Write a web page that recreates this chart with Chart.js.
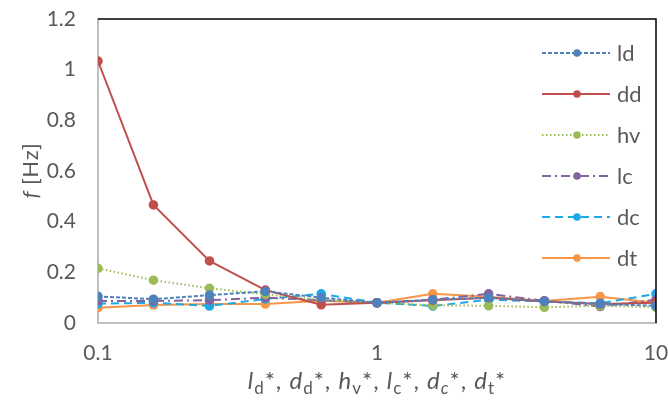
<!DOCTYPE html>
<html>
<head>
<meta charset="utf-8">
<script src="https://cdn.jsdelivr.net/npm/chart.js@4/dist/chart.umd.min.js"></script>
<style>
html,body{margin:0;padding:0;background:#fff;}
#c{display:block;}
</style>
</head>
<body>
<canvas id="c" width="668" height="400"></canvas>
<script>
// ---- data ----
const xValues = [0.1, 0.158, 0.251, 0.398, 0.631, 1, 1.585, 2.512, 3.981, 6.31, 10];
const seriesNames = ['ld', 'dd', 'hv', 'lc', 'dc', 'dt'];
const ld = [0.105, 0.094, 0.110, 0.125, 0.100, 0.080, 0.092, 0.100, 0.085, 0.075, 0.068];
const dd = [1.034, 0.466, 0.245, 0.130, 0.072, 0.080, 0.090, 0.100, 0.085, 0.075, 0.080];
const hv = [0.216, 0.169, 0.137, 0.113, 0.090, 0.080, 0.070, 0.068, 0.062, 0.068, 0.062];
const lc = [0.087, 0.087, 0.090, 0.100, 0.090, 0.080, 0.092, 0.115, 0.088, 0.065, 0.092];
const dc = [0.076, 0.080, 0.067, 0.095, 0.115, 0.080, 0.067, 0.092, 0.085, 0.078, 0.115];
const dt = [0.060, 0.071, 0.075, 0.075, 0.088, 0.080, 0.115, 0.104, 0.087, 0.104, 0.080];
const xTickLabels = [0.1, 1, 10];
const yTicks = [0, 0.2, 0.4, 0.6, 0.8, 1, 1.2];

const seriesValues = [ld, dd, hv, lc, dc, dt];
const colors = ['#4F81BD', '#C0504D', '#9BBB59', '#8064A2', '#1DA9E3', '#F79646'];
const dashes = [[4, 2], [], [1.5, 2.5], [9, 4, 2, 4], [8, 5], []];

const FONT = 'Lato, "Open Sans", sans-serif';
const TEXT = '#595959';

const datasets = seriesNames.map((name, i) => ({
  label: name,
  data: xValues.map((x, k) => ({x: x, y: seriesValues[i][k]})),
  borderColor: colors[i],
  backgroundColor: colors[i],
  pointBackgroundColor: colors[i],
  pointBorderColor: colors[i],
  borderWidth: 2,
  borderDash: dashes[i],
  pointRadius: 3.8,
  pointHoverRadius: 3.8,
  tension: 0,
  fill: false
}));

const overlay = {
  id: 'overlay',
  afterDraw(chart) {
    const ctx = chart.ctx;
    const a = chart.chartArea;
    ctx.save();
    // top & right frame
    ctx.strokeStyle = '#000';
    ctx.lineWidth = 1.5;
    ctx.beginPath();
    ctx.moveTo(a.left, a.top);
    ctx.lineTo(a.right, a.top);
    ctx.lineTo(a.right, a.bottom);
    ctx.stroke();

    // legend
    chart.data.datasets.forEach((ds, i) => {
      const y = 53 + i * 41;
      ctx.strokeStyle = ds.borderColor;
      ctx.lineWidth = 2;
      ctx.setLineDash(ds.borderDash);
      ctx.beginPath();
      ctx.moveTo(542, y);
      ctx.lineTo(610, y);
      ctx.stroke();
      ctx.setLineDash([]);
      ctx.fillStyle = ds.borderColor;
      ctx.beginPath();
      ctx.arc(577, y, 3.8, 0, Math.PI * 2);
      ctx.fill();
      ctx.fillStyle = TEXT;
      ctx.font = '22px ' + FONT;
      ctx.textAlign = 'left';
      ctx.textBaseline = 'middle';
      ctx.fillText(ds.label, 617, y + 1);
    });

    // y axis title: f [Hz]
    ctx.save();
    ctx.translate(31, 171);
    ctx.rotate(-Math.PI / 2);
    ctx.fillStyle = TEXT;
    ctx.textBaseline = 'middle';
    drawRuns(ctx, [{t: 'f', it: true}, {t: ' [Hz]', it: false}], 0, 0, 22, 0.5);
    ctx.restore();

    // x axis title
    const runs = [
      {t: 'l', it: true}, {t: 'd', sub: true}, {t: '*, '},
      {t: 'd', it: true}, {t: 'd', sub: true}, {t: '*, '},
      {t: 'h', it: true}, {t: 'v', sub: true}, {t: '*, '},
      {t: 'l', it: true}, {t: 'c', sub: true}, {t: '*, '},
      {t: 'd', it: true}, {t: 'c', sub: true, it: true}, {t: '*, '},
      {t: 'd', it: true}, {t: 't', sub: true}, {t: '*'}
    ];
    ctx.fillStyle = TEXT;
    ctx.textBaseline = 'alphabetic';
    drawRuns(ctx, runs, (a.left + a.right) / 2, 389, 24, 1);
    ctx.restore();
  }
};

function runFont(r, size) {
  const s = r.sub ? Math.round(size * 0.7) : size;
  return (r.it ? 'italic ' : '') + s + 'px ' + FONT;
}
function drawRuns(ctx, runs, cx, y, size, spacing) {
  let total = 0;
  const widths = runs.map(r => {
    ctx.font = runFont(r, size);
    return ctx.measureText(r.t).width + spacing * r.t.length;
  });
  widths.forEach(w => total += w);
  let x = cx - total / 2;
  ctx.textAlign = 'left';
  runs.forEach((r, i) => {
    ctx.font = runFont(r, size);
    const dy = r.sub ? size * 0.22 : 0;
    let xx = x;
    for (const ch of r.t) {
      ctx.fillText(ch, xx, y + dy);
      xx += ctx.measureText(ch).width + spacing;
    }
    x += widths[i];
  });
}

new Chart(document.getElementById('c'), {
  type: 'line',
  data: {datasets: datasets},
  options: {
    responsive: false,
    animation: false,
    devicePixelRatio: 1,
    layout: {padding: {top: 19, right: 12, left: 0, bottom: 0}},
    plugins: {
      legend: {display: false},
      tooltip: {enabled: false}
    },
    scales: {
      x: {
        type: 'logarithmic',
        min: 0.1,
        max: 10,
        afterBuildTicks(scale) { scale.ticks = xTickLabels.map(v => ({value: v})); },
        afterFit(scale) {
          scale.height = 77;
          scale.paddingLeft = 0; scale.paddingRight = 0;
          scale.paddingTop = 0; scale.paddingBottom = 0;
        },
        grid: {display: false, drawTicks: false},
        border: {display: true, color: '#BFBFBF', width: 2},
        ticks: {
          color: TEXT,
          font: {size: 21, family: FONT},
          padding: 18,
          maxRotation: 0,
          autoSkip: false,
          callback: (v) => String(v)
        }
      },
      y: {
        type: 'linear',
        min: 0,
        max: 1.2,
        afterBuildTicks(scale) { scale.ticks = yTicks.map(v => ({value: v})); },
        afterFit(scale) {
          scale.width = 98;
          scale.paddingLeft = 0; scale.paddingRight = 0;
          scale.paddingTop = 0; scale.paddingBottom = 0;
        },
        grid: {display: false, drawTicks: false},
        border: {display: true, color: '#BFBFBF', width: 2},
        ticks: {
          color: TEXT,
          font: {size: 21, family: FONT},
          padding: 22,
          callback: (v) => String(+v.toFixed(1))
        }
      }
    }
  },
  plugins: [overlay]
});
</script>
</body>
</html>
